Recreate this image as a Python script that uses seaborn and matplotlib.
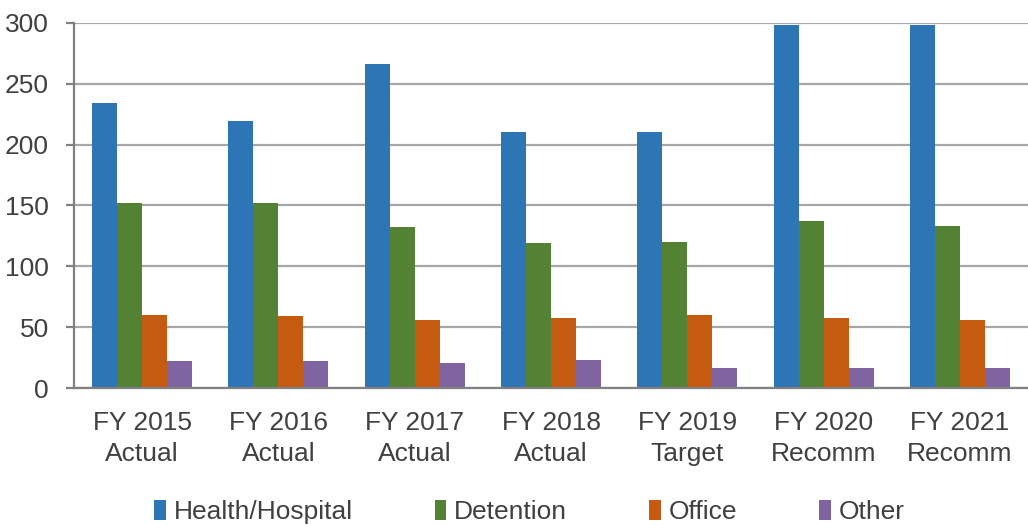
import matplotlib
matplotlib.use("Agg")
import matplotlib.pyplot as plt
import seaborn as sns
import pandas as pd
from matplotlib.patches import Patch

years = ["FY 2015\nActual", "FY 2016\nActual", "FY 2017\nActual", "FY 2018\nActual",
         "FY 2019\nTarget", "FY 2020\nRecomm", "FY 2021\nRecomm"]
categories = ["Health/Hospital", "Detention", "Office", "Other"]
health = [234, 219, 266, 210, 210, 298, 298]
detention = [152, 152, 132, 119, 120, 137, 133]
office = [60, 59, 56, 58, 60, 58, 56]
other = [22, 22, 21, 23, 17, 17, 17]
colors = ["#2E75B6", "#548235", "#C55A11", "#8064A2"]

df = pd.DataFrame({
    "year": years * 4,
    "category": [c for c in categories for _ in years],
    "value": health + detention + office + other,
})

sns.set_theme(style="white")
plt.rcParams["font.family"] = ["Liberation Sans", "DejaVu Sans"]
text_color = "#404040"

fig = plt.figure(figsize=(10.28, 5.25), dpi=100)
ax = fig.add_axes([0.072, 0.2604, 0.928, 0.6964])

sns.barplot(data=df, x="year", y="value", hue="category", palette=colors,
            width=0.733, gap=0, saturation=1, linewidth=0, ax=ax, legend=False)

ax.set_ylim(0, 300)
ax.set_yticks(range(0, 301, 50))
ax.set_xlabel("")
ax.set_ylabel("")
ax.yaxis.grid(True, color="#A6A6A6", linewidth=1.6)
ax.set_axisbelow(True)
for s in ["top", "right"]:
    ax.spines[s].set_visible(False)
for s in ["left", "bottom"]:
    ax.spines[s].set_color("#808080")
    ax.spines[s].set_linewidth(1.6)
ax.tick_params(axis="y", length=6, width=1.6, color="#808080", pad=12,
               labelsize=19, labelcolor=text_color, left=True)
ax.tick_params(axis="x", length=0, pad=16, labelsize=19, labelcolor=text_color)
for lbl in ax.get_xticklabels():
    lbl.set_linespacing(1.4)

handles = [Patch(facecolor=c, edgecolor="none") for c in colors]
fig.legend(handles, categories, loc="center", bbox_to_anchor=(0.515, 0.025),
           ncol=4, frameon=False, fontsize=19, labelcolor=text_color,
           handlelength=0.45, handleheight=0.8, handletextpad=0.3, columnspacing=3.1)

fig.savefig("out.png", dpi=100)
